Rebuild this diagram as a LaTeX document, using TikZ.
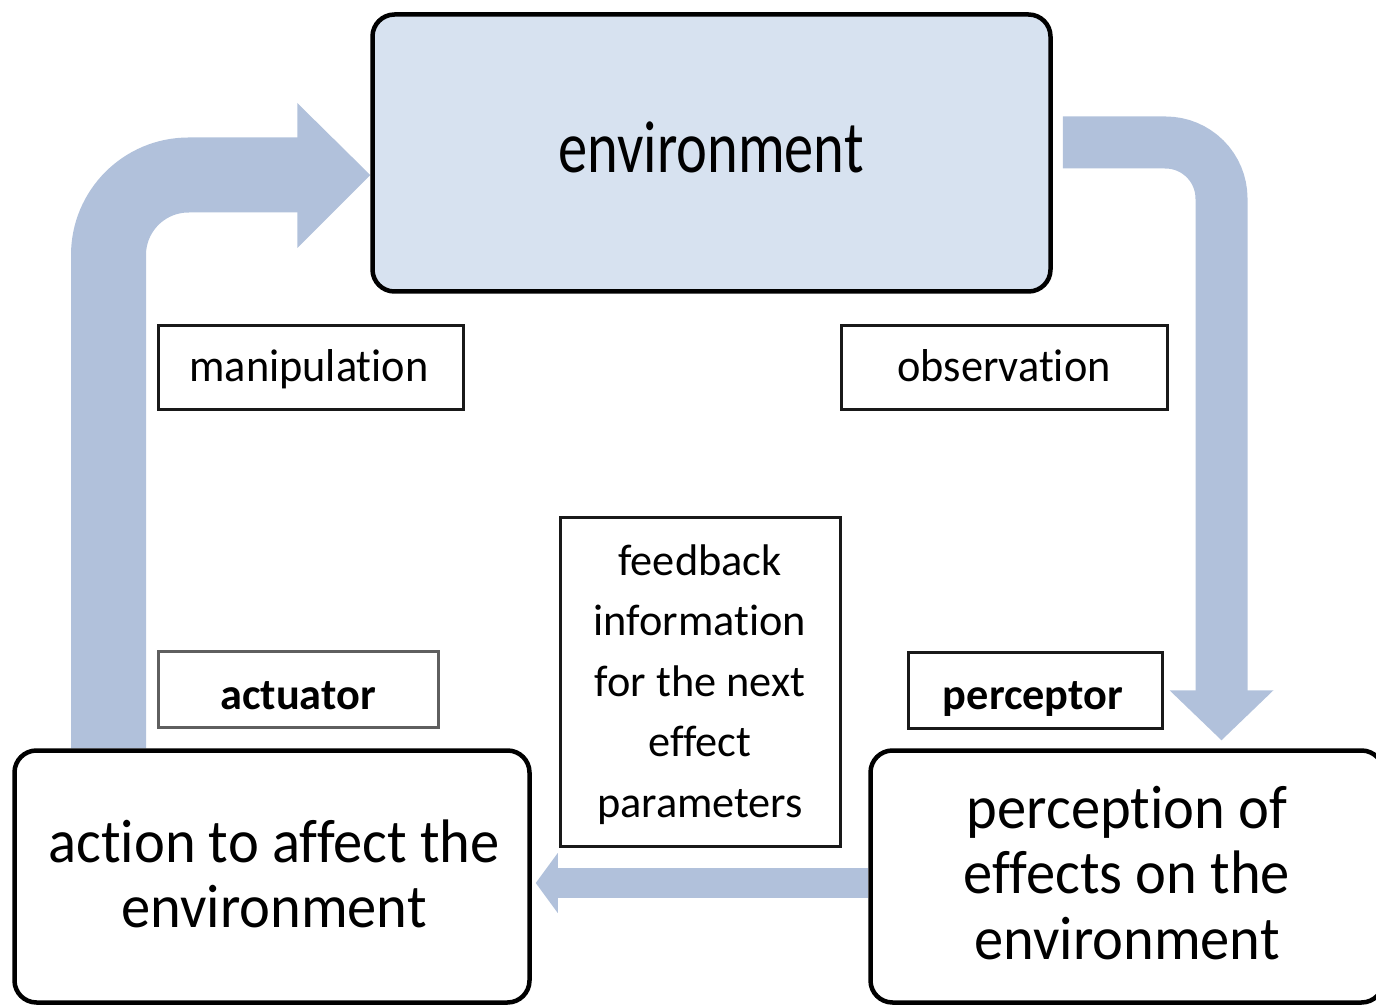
\documentclass[tikz,border=0pt]{standalone}
\usepackage{fontspec}
\setmainfont{Carlito}[Ligatures=NoCommon]
\usepackage{graphicx}
\usetikzlibrary{calc,backgrounds}
\definecolor{arrowblue}{RGB}{177,193,219}
\definecolor{envfill}{RGB}{215,226,240}
\definecolor{actgray}{RGB}{95,95,95}
\newcommand\txtlines[2]{\scalebox{1}[#1]{\begin{tabular}[t]{@{}c@{}}#2\end{tabular}}}
\begin{document}
\begin{tikzpicture}[x=1pt,y=-1pt,
  bigbox/.style={draw=black, line width=4.5pt, rounded corners=22pt, inner sep=0pt},
  labelbox/.style={draw=black!90, line width=3pt, inner sep=0pt, fill=white},
  bigtext/.style={font=\fontsize{58.5}{62.4}\selectfont, inner sep=0pt, anchor=base},
  labeltext/.style={font=\fontsize{44.3}{60.5}\selectfont, inner sep=0pt, anchor=base},
  boldlabel/.style={font=\fontsize{44.3}{60.5}\selectfont\bfseries, inner sep=0pt, anchor=base},
  flow/.style={draw=arrowblue, line cap=butt},
  headfill/.style={fill=arrowblue}]
\useasboundingbox (0,0) rectangle (1376,1008);
\clip (0,0) rectangle (1376,1008);

% main boxes
\node[bigbox, fill=envfill, minimum width=678pt, minimum height=277pt] (env) at (711.5,153) {};
\node[bigbox, fill=white, minimum width=515pt, minimum height=252pt] (act) at (272,876.5) {};
\node[bigbox, fill=white, minimum width=513pt, minimum height=252pt] (perc) at (1127,876.5) {};

% label boxes
\node[labelbox, minimum width=305pt, minimum height=84pt] (man) at (311,367.5) {};
\node[labelbox, minimum width=326pt, minimum height=84pt] (obs) at (1004.5,367.5) {};
\node[labelbox, draw=actgray, minimum width=280pt, minimum height=76pt] (actu) at (298.5,689) {};
\node[labelbox, minimum width=254pt, minimum height=76pt] (percu) at (1035.5,690.5) {};
\node[labelbox, minimum width=280pt, minimum height=329pt] (fb) at (700.5,682) {};

% texts
\node[bigtext] (envT) at (711,173) {\txtlines{1.26}{environment}};
\node[bigtext] (actT) at (274,862) {\txtlines{1.05}{action to affect the\\environment}};
\node[bigtext] (percT) at (1127,828) {\txtlines{1.05}{perception of\\effects on the\\environment}};
\node[labeltext] (manL) at (309,381) {\txtlines{1.04}{manipulation}};
\node[labeltext] (obsL) at (1004,381) {\txtlines{1.04}{observation}};
\node[boldlabel] (actL) at (298,709) {\txtlines{1}{actuator}};
\node[boldlabel] (perL) at (1033,709) {\txtlines{1}{perceptor}};
\node[labeltext] (fbL) at (700,575) {\txtlines{1}{feedback\\information\\for the next\\effect\\parameters}};

% helper coordinates for the block arrows
\coordinate (lx) at (108.5,0);
\coordinate (ly) at (0,175);
\coordinate (rx) at (1221.5,0);
\coordinate (ry) at (0,142.5);
\coordinate (by) at (0,883);
\coordinate (manS) at (act.north -| lx);
\coordinate (manE) at (env.west |- ly);
\coordinate (obsS) at ($(env.east |- ry)+(10,0)$);
\coordinate (obsE) at ($(perc.north -| rx)+(0,-8)$);
\coordinate (fbS) at (perc.west |- by);
\coordinate (fbE) at ($(act.east |- by)+(4,0)$);

\begin{scope}[on background layer]
  % manipulation arrow
  \draw[flow, line width=75pt, rounded corners=80pt] (manS) |- ($(manE)+(-72,0)$);
  \fill[headfill] ($(manE)+(-73,-72)$) -- (manE) -- ($(manE)+(-73,73)$) -- cycle;
  % observation arrow
  \draw[flow, line width=52pt, rounded corners=56pt] (obsS) -| ($(obsE)+(0,-49)$);
  \fill[headfill] ($(obsE)+(-52,-50)$) -- (obsE) -- ($(obsE)+(52,-50)$) -- cycle;
  % feedback arrow
  \draw[flow, line width=30pt] (fbS) -- ($(fbE)+(21,0)$);
  \fill[headfill] ($(fbE)+(22,-30)$) -- (fbE) -- ($(fbE)+(22,30)$) -- cycle;
\end{scope}
\end{tikzpicture}
\end{document}
